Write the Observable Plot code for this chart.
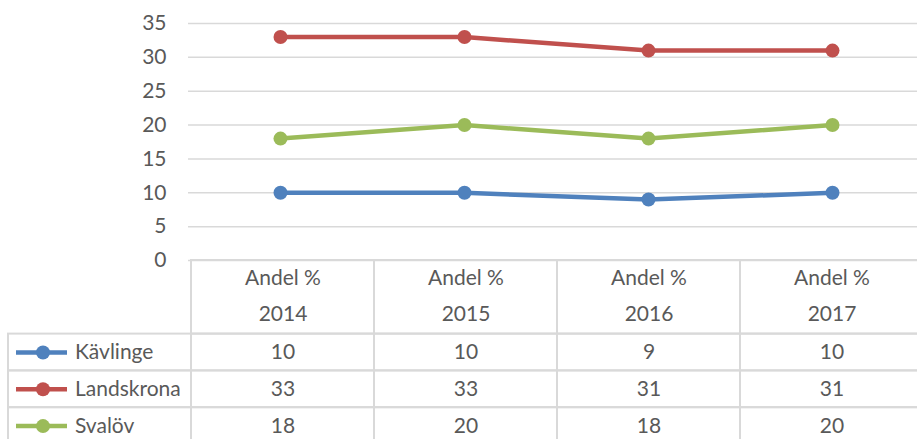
<!DOCTYPE html>
<html><head><meta charset="utf-8">
<script src="https://cdn.jsdelivr.net/npm/d3@7"></script>
<script src="https://cdn.jsdelivr.net/npm/@observablehq/plot@0.6"></script>
<style>
body{margin:0;background:#fff;}
#wrap{position:relative;width:917px;height:439px;overflow:hidden;background:#fff;}
#wrap svg{position:absolute;left:0;top:0;}
#wrap svg text{font-family:Lato, "Open Sans", sans-serif;font-size:21px;fill:#595959;}
</style></head><body><div id="wrap"></div>
<script>
const years = ["2014", "2015", "2016", "2017"];
const headerLabel = "Andel %";
const series = ["Kävlinge", "Landskrona", "Svalöv"];
const kavlinge = [10, 10, 9, 10];
const landskrona = [33, 33, 31, 31];
const svalov = [18, 20, 18, 20];
const colors = ["#4F81BD", "#C0504D", "#9BBB59"];
const yTicks = [0, 5, 10, 15, 20, 25, 30, 35];

const seriesValues = [kavlinge, landskrona, svalov];
const rows = series.map((name, i) => ({name, row: i, values: seriesValues[i]}));
const points = rows.flatMap(r => years.map((year, j) => ({name: r.name, row: r.row, year, value: r.values[j]})));
const cols = ["", ...years];
const cellBorders = rows.flatMap(r => cols.map(col => ({col, row: r.row})));
const grid = "#D9D9D9";

const chart = Plot.plot({
  width: 917, height: 439,
  marginLeft: 188, marginRight: 0, marginTop: 23, marginBottom: 179,
  style: {background: "transparent", overflow: "visible", color: "#595959"},
  x: {type: "band", domain: years, range: [188, 924], padding: 0, axis: null},
  y: {domain: [0, 35], ticks: yTicks, tickSize: 0, tickPadding: 22, label: null},
  color: {domain: series, range: colors},
  marks: [
    Plot.ruleY(yTicks, {stroke: grid, strokeWidth: 1.5}),
    Plot.line(points, {x: "year", y: "value", z: "name", stroke: "name", strokeWidth: 4.5, strokeLinejoin: "round"}),
    Plot.dot(points, {x: "year", y: "value", fill: "name", r: 7})
  ]
});

const table = Plot.plot({
  width: 917, height: 439,
  style: {background: "transparent", overflow: "visible", color: "#595959"},
  x: {type: "band", domain: cols, range: [6, 924], padding: 0, axis: null},
  y: {type: "linear", domain: [0, 5], range: [260, 444], axis: null},
  color: {domain: series, range: colors},
  marks: [
    Plot.barY(years, {x: d => d, y1: 0, y2: 2, fill: "none", stroke: grid, strokeWidth: 2}),
    Plot.barY(cellBorders, {x: "col", y1: d => d.row + 2, y2: d => d.row + 3, fill: "none", stroke: grid, strokeWidth: 2}),
    Plot.text(years, {x: d => d, y: 0.5, text: () => headerLabel, dy: -1}),
    Plot.text(years, {x: d => d, y: 1.5, text: d => d, dy: -1}),
    Plot.text(points, {x: "year", y: d => d.row + 2.5, text: d => String(d.value)}),
    Plot.tickY(rows, {x: () => "", y: d => d.row + 2.5, stroke: "name", strokeWidth: 4.5, insetLeft: 8, insetRight: 124}),
    Plot.dot(rows, {x: () => "", y: d => d.row + 2.5, fill: "name", r: 7, dx: -57}),
    Plot.text(rows, {x: () => "", y: d => d.row + 2.5, text: "name", textAnchor: "start", dx: -25})
  ]
});

const wrap = document.getElementById("wrap");
wrap.appendChild(table);
wrap.appendChild(chart);
</script>
</body></html>
